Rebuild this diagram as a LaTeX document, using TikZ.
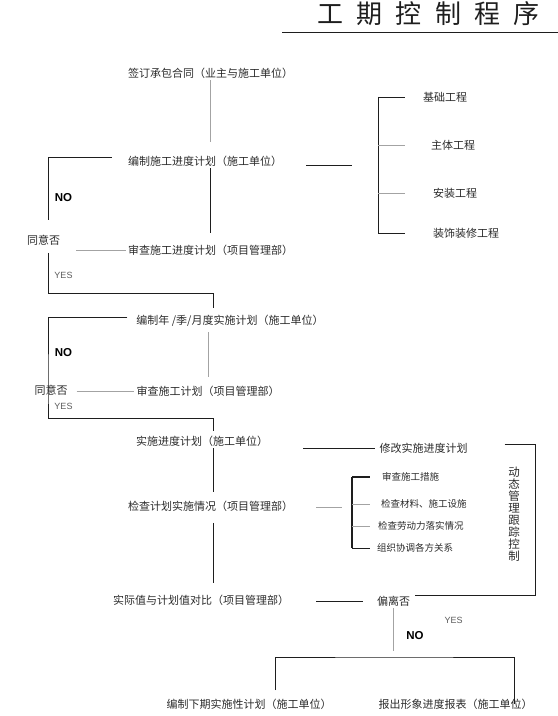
\documentclass[tikz,border=0pt]{standalone}
\usepackage{fontspec}
\setmainfont{Noto Sans CJK SC}
\newfontfamily\yesnofont{Liberation Sans}
\definecolor{gqtext}{HTML}{2B2B2B}
\definecolor{gqdark}{HTML}{1E1E1E}
\definecolor{gqlight}{HTML}{A3A3A3}
\definecolor{gqyes}{HTML}{5A5A5A}

\begin{document}
\begin{tikzpicture}[x=1bp, y=-1bp,
    lbl/.style={text=gqtext, inner sep=2bp, font=\fontsize{11bp}{13bp}\selectfont},
    sublbl/.style={text=gqtext, inner sep=2bp, anchor=west,
                   font=\fontsize{9.5bp}{11bp}\selectfont},
    dark/.style={draw=gqdark, line width=0.8bp},
    light/.style={draw=gqlight, line width=0.7bp},
    heavy/.style={draw=gqdark, line width=1.5bp},
    nolbl/.style={text=black, inner sep=0pt,
                  font=\yesnofont\bfseries\fontsize{11.5bp}{14bp}\selectfont},
    yeslbl/.style={text=gqyes, inner sep=0pt, font=\yesnofont\fontsize{9bp}{11bp}\selectfont}]

\useasboundingbox (0,0) rectangle (558,716);

% --- title ------------------------------------------------------------------
\node[lbl, text=gqdark, font=\fontsize{26bp}{28bp}\selectfont] (title) at (428.5,14)
  {工\hspace{13.4bp}期\hspace{13.4bp}控\hspace{13.4bp}制\hspace{13.4bp}程\hspace{13.4bp}序};
\draw[dark] (282,32) -- (558,32);

% --- main column --------------------------------------------------------------
\node[lbl] (n1)  at (210.5,73)  {签订承包合同（业主与施工单位）};
\node[lbl] (n2)  at (205,161)   {编制施工进度计划（施工单位）};
\node[lbl] (q1)  at (43.5,240)  {同意否};
\node[lbl] (n3)  at (210.5,250) {审查施工进度计划（项目管理部）};
\node[lbl] (n4)  at (230,321)   {编制年 /季/月度实施计划（施工单位）};
\node[lbl] (q2)  at (51,390)    {同意否};
\node[lbl] (n5)  at (208,391)   {审查施工计划（项目管理部）};
\node[lbl] (n6)  at (202,441)   {实施进度计划（施工单位）};
\node[lbl] (n7)  at (423.5,448) {修改实施进度计划};
\node[lbl] (n8)  at (210.5,506) {检查计划实施情况（项目管理部）};
\node[lbl] (n9)  at (201,600)   {实际值与计划值对比（项目管理部）};
\node[lbl] (q3)  at (393.5,601) {偏离否};
\node[lbl] (n10) at (249,704)   {编制下期实施性计划（施工单位）};
\node[lbl] (n11) at (455.5,704) {报出形象进度报表（施工单位）};

\node[lbl, align=center, font=\fontsize{11.5bp}{12bp}\selectfont] (dyn) at (514,514)
  {动\\态\\管\\理\\跟\\踪\\控\\制};

\node[nolbl]  (no1)  at (63.5,198)  {NO};
\node[yeslbl] (yes1) at (63.5,275)  {YES};
\node[nolbl]  (no2)  at (63.5,353)  {NO};
\node[yeslbl] (yes2) at (63.5,406)  {YES};
\node[yeslbl] (yes3) at (453.5,620) {YES};
\node[nolbl]  (no3)  at (415,636)   {NO};

% --- sub-works (right of n2) and checks (right of n8) -- name/x/y/label -------
\foreach \nm/\lx/\ly/\text in {%
    a1/421/97/{基础工程},
    a2/429/145/{主体工程},
    a3/431/193/{安装工程},
    a4/431/233/{装饰装修工程}}
  \node[lbl, anchor=west] (\nm) at (\lx,\ly) {\text};

\foreach \nm/\lx/\ly/\text in {%
    b1/380/477/{审查施工措施},
    b2/379/504/{检查材料、施工设施},
    b3/376/526/{检查劳动力落实情况},
    b4/375/548/{组织协调各方关系}}
  \node[sublbl] (\nm) at (\lx,\ly) {\text};

\coordinate (amid) at (378,165);
\coordinate (bx)   at (352,507);
\coordinate (y1)   at (213,293);
\coordinate (y2)   at (213,418);
\coordinate (fork) at (393.5,657);

% --- connectors -----------------------------------------------------------------
\draw[light, shorten >=11.5bp] (n1.south) -- (n1.south |- n2.north);
\draw[dark, shorten >=9.5bp] (n3.north |- n2.south) -- (n3.north);
\draw[dark, shorten >=12.5bp] ([shift={(-14,-4)}]n2.west) -| ([xshift=4.5bp]q1.north);
\draw[light, shorten <=14bp] (q1.east |- n3.west) -- (n3.west);
\draw[dark, shorten <=5.5bp, shorten >=5.5bp]
  ([xshift=4.5bp]q1.south) |- (y1) -- (n4.north -| y1);

\draw[dark, shorten <=22bp, shorten >=26bp] (n2.east |- amid) -- (amid);
\draw[dark] (a1.west -| amid) -- (a4.west -| amid);
\foreach \nm/\sty in {a1/dark, a2/light, a3/light, a4/dark}
  \draw[\sty] (\nm.west -| amid) -- ++(27,0);

\draw[light, shorten <=3.5bp, shorten >=6.5bp] (n5.north |- n4.south) -- (n5.north);
\draw[light, shorten <=7bp] (q2.east |- n5.west) -- (n5.west);
\draw[dark, shorten >=2.5bp]
  ([shift={(-7,-4)}]n4.west) -| ([xshift=-3bp]q2.center) |- (y2) -- (n6.north -| y2);

\draw[dark, shorten >=6.5bp] (n6.south -| y2) -- (n8.north -| y2);
\draw[dark, shorten <=9.5bp, shorten >=9.5bp] (n8.south -| y2) -- (n9.north -| y2);
\draw[dark, shorten <=33bp, shorten >=2bp] (n6.east |- n7.west) -- (n7.west);
\draw[dark] ([shift={(35,-4)}]n7.east) -| ([xshift=13.5bp]dyn.east)
  |- ([shift={(3,-6)}]q3.east);

\draw[light, shorten <=21bp, shorten >=10bp] (n8.east |- bx) -- (bx);
\draw[heavy] (b1.west -| bx) -- (b4.west -| bx);
\foreach \nm/\sty in {b1/heavy, b2/light, b3/light, b4/dark}
  \draw[\sty] (\nm.west -| bx) -- ++(18,0);

\draw[dark, shorten <=25bp, shorten >=12bp] (n9.east |- q3.west) -- (q3.west);
\draw[light, shorten >=6bp] (q3.south) -- (fork);
\draw[dark, shorten <=6.5bp] ([xshift=26bp]n10.north) |- (fork) -| ([xshift=58.5bp]n11.center);
\end{tikzpicture}
\end{document}
